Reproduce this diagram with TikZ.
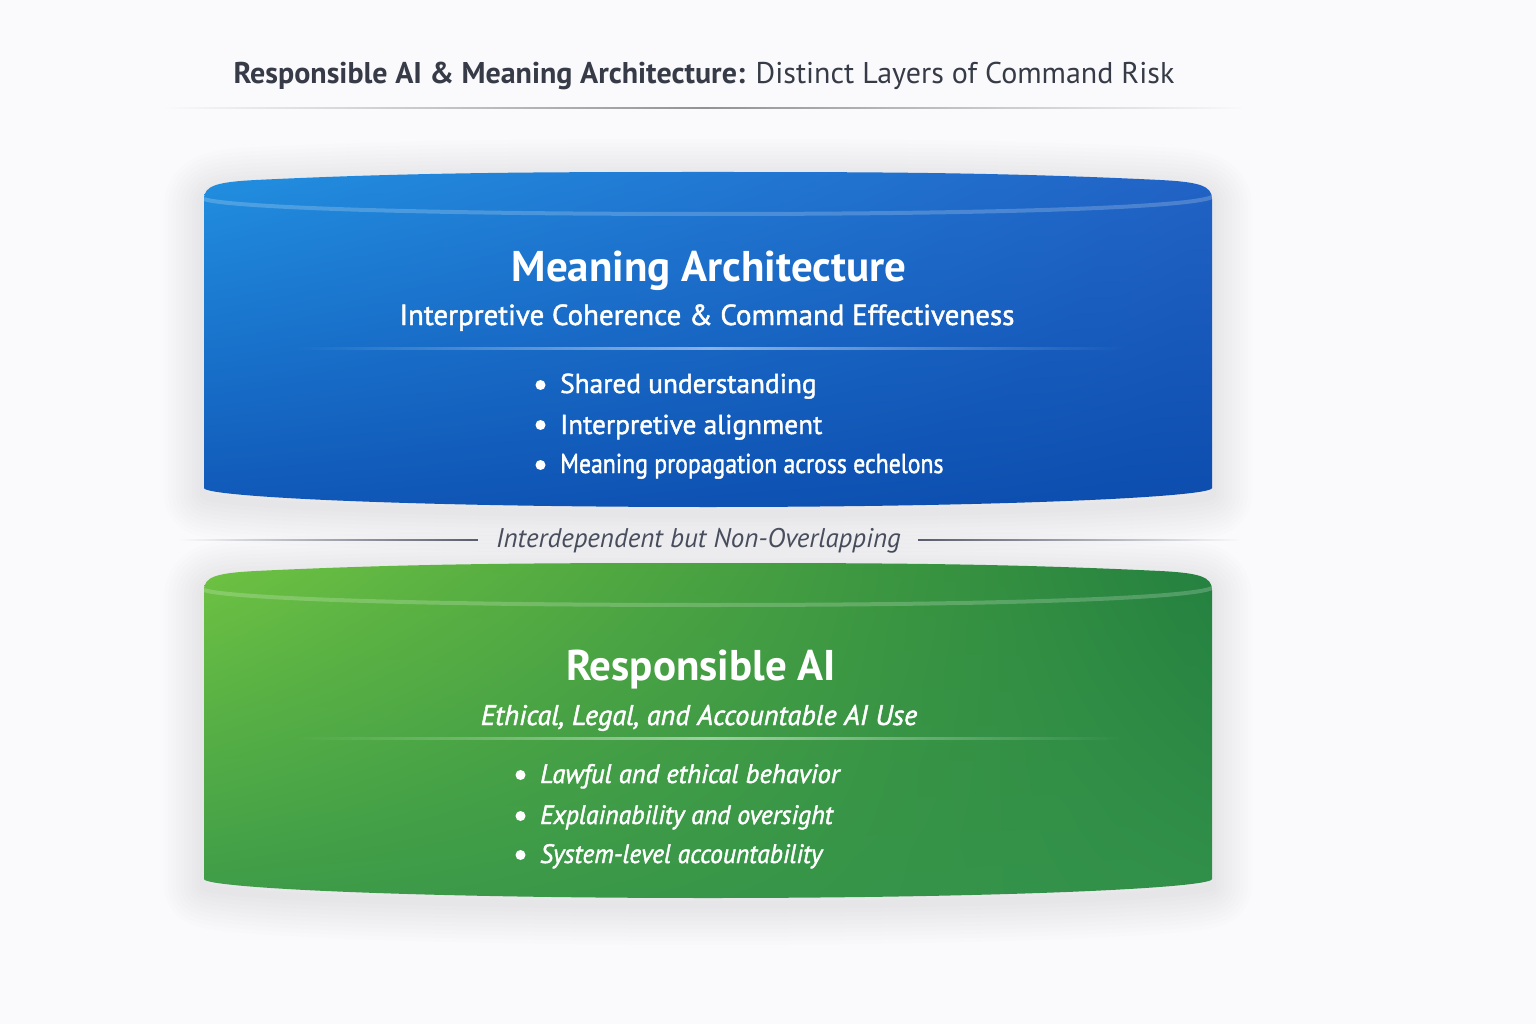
\documentclass[tikz,border=0pt]{standalone}
\usepackage{fontspec}
\setmainfont{PT Sans}
\newfontfamily\medf[FakeBold=1.6]{PT Sans}
\usetikzlibrary{fadings,shadings}
\definecolor{bgc}{HTML}{FAFAFC}
\definecolor{titc}{HTML}{363B47}
\definecolor{midc}{HTML}{4A5060}
\definecolor{lnc}{HTML}{5B6070}
\definecolor{bTL}{HTML}{2291E1}
\definecolor{bTR}{HTML}{2263C6}
\definecolor{bBL}{HTML}{1057B7}
\definecolor{bBR}{HTML}{0B4CAD}
\definecolor{gTL}{HTML}{70C442}
\definecolor{gTR}{HTML}{23803F}
\definecolor{gBL}{HTML}{3D9B48}
\definecolor{gBR}{HTML}{31904A}
\tikzfading[name=sepfade, left color=transparent!100, right color=transparent!100, middle color=transparent!15]
\tikzfading[name=fadeinR, left color=transparent!100, right color=transparent!0]
\tikzfading[name=fadeinL, left color=transparent!0, right color=transparent!100]
\def\slabpath{(204,488) -- (204,199) .. controls (204,186) and (216,182) .. (256,180) .. controls (420,172) and (560,172) .. (708,172) .. controls (856,172) and (996,172) .. (1160,180) .. controls (1200,182) and (1212,186) .. (1212,199) -- (1212,488) .. controls (1212,497) and (1000,507) .. (708,507) .. controls (416,507) and (204,497) .. (204,488) -- cycle}
\def\hlpath{(204,199) .. controls (222,206) and (380,214) .. (708,214) .. controls (1036,214) and (1194,206) .. (1212,197)}
\begin{document}
\begin{tikzpicture}[x=1pt,y=-1pt,
  titlet/.style={text=titc, font=\fontsize{30}{36}\selectfont, inner sep=0pt},
  headt/.style={text=white, font=\fontsize{43}{50}\selectfont\bfseries, inner sep=0pt},
  subt/.style={text=white, font=\medf\fontsize{29}{35}\selectfont, inner sep=0pt},
  subti/.style={text=white, font=\medf\fontsize{28.3}{34}\selectfont\itshape, inner sep=0pt},
  bult/.style={text=white, font=\medf\fontsize{27.3}{32}\selectfont, inner sep=0pt},
  bulti/.style={text=white, font=\medf\fontsize{26.6}{32}\selectfont\itshape, inner sep=0pt},
  midt/.style={text=midc, font=\fontsize{27}{32}\selectfont\itshape, inner sep=0pt},
  halo/.style={line width=#1, black, opacity=0.009, line join=round}
]
\useasboundingbox (0,0) rectangle (1536,1024);
\fill[bgc] (0,0) rectangle (1536,1024);

% title
\node[titlet, anchor=base] (title) at (704,84) {\textbf{Responsible AI \& Meaning Architecture:} Distinct Layers of Command Risk};
\fill[black!50, path fading=sepfade] (165,107) rectangle (1245,109.5);

% ---------- top slab ----------
\begin{scope}[yshift=-7pt]
\foreach \w in {80,72,...,8} {\draw[halo=\w] \slabpath;}
\end{scope}
\begin{scope}
\clip \slabpath;
\shade[upper left=bTL, upper right=bTR, lower left=bBL, lower right=bBR] (200,165) rectangle (1216,512);
\draw[white, opacity=0.2, line width=4] \hlpath;
\end{scope}
\fill[white, opacity=0.6, path fading=sepfade] (295,347) rectangle (1125,349.5);

\node[headt, anchor=base] (mahead) at (709,281) {Meaning Architecture};
\node[subt, anchor=base] (masub) at (707,325) {Interpretive Coherence \& Command Effectiveness};
\node[bult, anchor=base west] (ma1) at (560,393) {Shared understanding};
\node[bult, anchor=base west] (ma2) at (560,434) {Interpretive alignment};
\node[bult, anchor=base west] (ma3) at (560,473) {\scalebox{0.87}[1]{Meaning propagation across echelons}};
\fill[white] (540.5,385) circle (5) (540.5,425) circle (5) (540.5,465) circle (5);

% middle label
\node[midt, anchor=base] (mid) at (698.5,547) {Interdependent but Non-Overlapping};
\fill[lnc, path fading=fadeinR] (180,538.5) rectangle (478,540.5);
\fill[lnc, path fading=fadeinL] (918,538.5) rectangle (1240,540.5);

% ---------- bottom slab ----------
\begin{scope}[shift={(0,391)}]
\begin{scope}[yshift=-7pt]
\foreach \w in {80,72,...,8} {\draw[halo=\w] \slabpath;}
\end{scope}
\begin{scope}
\clip \slabpath;
\shade[upper left=gTL, upper right=gTR, lower left=gBL, lower right=gBR] (200,165) rectangle (1216,512);
\draw[white, opacity=0.2, line width=4] \hlpath;
\end{scope}
\fill[white, opacity=0.6, path fading=sepfade] (295,346) rectangle (1125,348.5);
\end{scope}

\node[headt, anchor=base] (raihead) at (701,680) {Responsible AI};
\node[subti, anchor=base] (raisub) at (699,725) {Ethical, Legal, and Accountable AI Use};
\node[bulti, anchor=base west] (rai1) at (540,783) {Lawful and ethical behavior};
\node[bulti, anchor=base west] (rai2) at (540,824) {\scalebox{0.97}[1]{Explainability and oversight}};
\node[bulti, anchor=base west] (rai3) at (540,863) {\scalebox{0.96}[1]{System-level accountability}};
\fill[white] (520.5,775) circle (5) (520.5,816) circle (5) (520.5,855) circle (5);
\end{tikzpicture}
\end{document}
